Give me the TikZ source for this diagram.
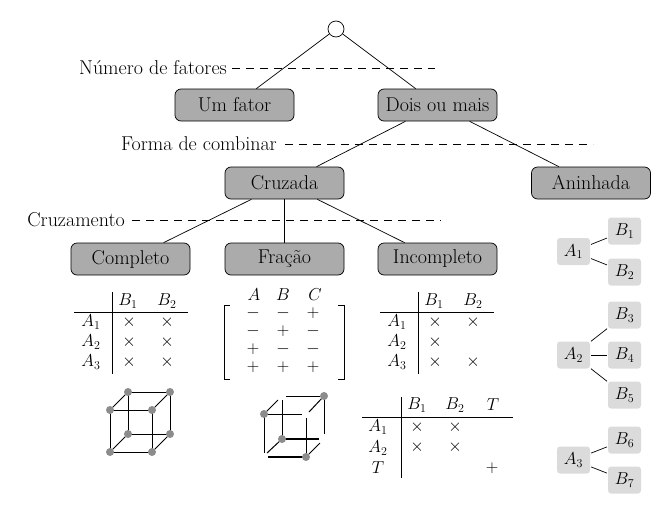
\documentclass[tikz,border=0pt]{standalone}
\begin{document}
\begin{tikzpicture}[x=1pt,y=-1pt,
  main/.style={draw=black,line width=0.7pt,fill=black!33,rounded corners=6pt,minimum width=119pt,minimum height=32pt,inner sep=0pt,font=\fontsize{20}{22}\selectfont},
  lev/.style={inner sep=0pt,font=\fontsize{20}{22}\selectfont},
  guide/.style={dashed,dash pattern=on 8pt off 6pt,line width=0.7pt},
  edge/.style={line width=0.7pt},
  cell/.style={inner sep=0pt,font=\fontsize{17}{19}\selectfont},
  nest/.style={fill=black!14,rounded corners=3pt,minimum width=33pt,minimum height=27pt,inner sep=0pt,outer sep=1pt,font=\fontsize{17}{19}\selectfont},
  rule/.style={line width=0.7pt},
  dot/.style={circle,fill=black!45,draw=none,minimum size=8pt,inner sep=0pt},
  cube/.style={line width=1pt},
  thickcube/.style={line width=1.8pt}]
\useasboundingbox (0,0) rectangle (671,514);
% guides
\node[lev,anchor=east] (g1) at (227,68) {Número de fatores};
\coordinate (g1e) at (435,68);
\draw[guide] (g1.east)++(5,0) -- (g1e);
\node[lev,anchor=east] (g2) at (277,144) {Forma de combinar};
\coordinate (g2e) at (593,144);
\draw[guide] (g2.east)++(8,0) -- (g2e);
\node[lev,anchor=east] (g3) at (125,220) {Cruzamento};
\coordinate (g3e) at (441,220);
\draw[guide] (g3.east)++(7,0) -- (g3e);
% tree
\node[circle,draw,fill=white,minimum size=16pt,inner sep=0pt,line width=0.7pt] (root) at (336,29) {};
\node[main] (um) at (234.5,105) {Um fator};
\node[main] (dois) at (437.5,105) {Dois ou mais};
\node[main] (cruz) at (284.5,183) {Cruzada};
\node[main] (anin) at (591,183) {Aninhada};
\node[main] (comp) at (130.5,259) {Completo};
\node[main] (frac) at (284.5,259) {Fração};
\node[main] (inco) at (437.5,259) {Incompleto};
\draw[edge] (root)--(um);
\draw[edge] (root)--(dois);
\draw[edge] (dois)--(cruz);
\draw[edge] (dois)--(anin);
\draw[edge] (cruz)--(comp);
\draw[edge] (cruz)--(frac);
\draw[edge] (cruz)--(inco);
% table 1
\draw[rule] (112.5,292)--(112.5,374);
\draw[rule] (74,312)--(188,312);
\node[cell] (t1b1) at (128,301) {$B_1$};
\node[cell] (t1b2) at (167,301) {$B_2$};
\foreach \i/\y in {1/322,2/342,3/362}{
  \node[cell] (t1a\i) at (91,\y) {$A_\i$};
  \node[cell] (t1x\i) at (129,\y) {$\times$};
  \node[cell] (t1y\i) at (167,\y) {$\times$};
}
% matrix
\node[cell] (mA) at (254,295) {$A$};
\node[cell] (mB) at (283,295) {$B$};
\node[cell] (mC) at (315,295) {$C$};
\foreach \n/\x/\y/\s in {a/253/313/-,b/283/313/-,c/313/313/+,d/253/331/-,e/283/331/+,f/313/331/-,g/253/349/+,h/283/349/-,i/313/349/-,j/253/367/+,k/283/367/+,l/313/367/+}{
  \node[cell] (m\n) at (\x,\y) {$\s$};
}
\draw[rule] (230,305)--(224,305)--(224,379)--(230,379);
\draw[rule] (338,305)--(344,305)--(344,379)--(338,379);
% table 3
\draw[rule] (418.5,292)--(418.5,374);
\draw[rule] (380,312)--(494,312);
\node[cell] (t3b1) at (434,301) {$B_1$};
\node[cell] (t3b2) at (473,301) {$B_2$};
\foreach \i/\y in {1/322,2/342,3/362}{
  \node[cell] (t3a\i) at (397,\y) {$A_\i$};
  \node[cell] (t3x\i) at (435,\y) {$\times$};
}
\node[cell] (t3y1) at (473,322) {$\times$};
\node[cell] (t3y3) at (473,362) {$\times$};
% table 4
\draw[rule] (401,397)--(401,478);
\draw[rule] (362,417)--(513,417);
\node[cell] (t4b1) at (417,405) {$B_1$};
\node[cell] (t4b2) at (455,405) {$B_2$};
\node[cell] (t4t) at (493,405) {$T$};
\node[cell] (t4a1) at (378,427) {$A_1$};
\node[cell] (t4a2) at (378,448) {$A_2$};
\node[cell] (t4r) at (378,468) {$T$};
\node[cell] (t4x1) at (417,427) {$\times$};
\node[cell] (t4y1) at (455,427) {$\times$};
\node[cell] (t4x2) at (417,447) {$\times$};
\node[cell] (t4y2) at (455,447) {$\times$};
\node[cell] (t4p) at (492,468) {$+$};
% cube 1
\draw[cube] (128,392)--(170,392)--(170,434)--(128,434)--cycle;
\draw[cube] (110,410)--(152,410)--(152,452)--(110,452)--cycle;
\draw[cube] (128,392)--(110,410) (170,392)--(152,410) (128,434)--(110,452) (170,434)--(152,452);
\foreach \n/\x/\y in {a/128/392,b/170/392,c/110/410,d/152/410,e/128/434,f/170/434,g/110/452,h/152/452}{
  \node[dot] (c\n) at (\x,\y) {};
}
% cube 2
\draw[cube] (286,396)--(320,396);
\draw[cube] (264,414)--(264,453);
\draw[cube] (264,414)--(302,414);
\draw[cube] (282,400)--(282,439);
\draw[cube] (264,414)--(278,400);
\draw[cube] (324,396)--(309,412);
\draw[cube] (306,418)--(306,457);
\draw[cube] (324,396)--(324,434);
\draw[thickcube] (282,439)--(319,439);
\draw[thickcube] (268,457)--(306,457);
\draw[cube] (282,439)--(267,453);
\draw[cube] (306,457)--(320,443);
\foreach \n/\x/\y in {a/264/414,b/324/396,c/282/439,d/306/457}{
  \node[dot] (k\n) at (\x,\y) {};
}
% nested
\node[nest] (A1) at (573.5,251.5) {$A_1$};
\node[nest] (B1) at (624.5,231) {$B_1$};
\node[nest] (B2) at (624.5,272) {$B_2$};
\node[nest] (A2) at (573.5,355) {$A_2$};
\node[nest] (B3) at (624.5,315) {$B_3$};
\node[nest] (B4) at (624.5,355) {$B_4$};
\node[nest] (B5) at (624.5,395) {$B_5$};
\node[nest] (A3) at (573.5,460) {$A_3$};
\node[nest] (B6) at (624.5,440) {$B_6$};
\node[nest] (B7) at (624.5,480) {$B_7$};
\foreach \a/\b in {A1/B1,A1/B2,A2/B3,A2/B4,A2/B5,A3/B6,A3/B7}{
  \draw[edge] (\a)--(\b);
}
\end{tikzpicture}
\end{document}
